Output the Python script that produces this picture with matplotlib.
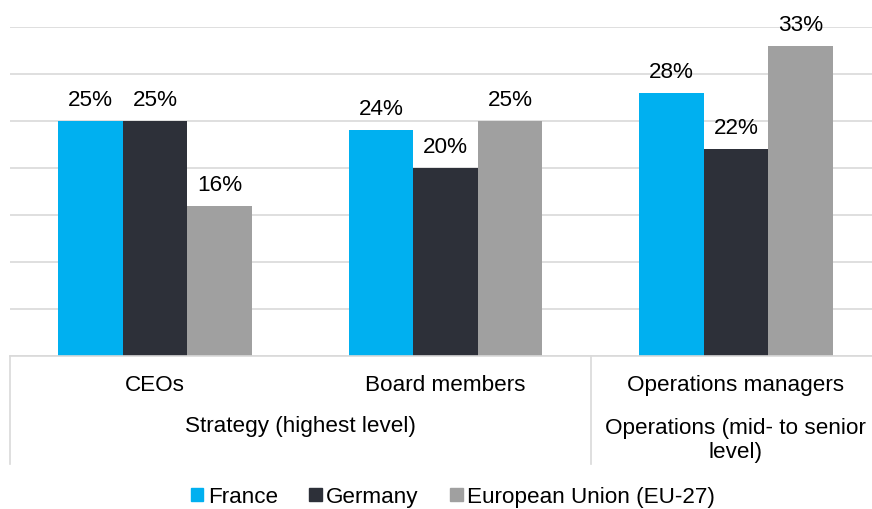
import numpy as np
import matplotlib.pyplot as plt
from matplotlib.patches import Patch

plt.rcParams['font.family'] = ['Liberation Sans', 'DejaVu Sans']

# данные
roles = ['CEOs', 'Board members', 'Operations managers']
france = [25, 24, 28]
germany = [25, 20, 22]
eu27 = [16, 25, 33]
series_names = ['France', 'Germany', 'European Union (EU-27)']
colors = ['#00B0F0', '#2D3039', '#A0A0A0']

fig = plt.figure(figsize=(8.72, 5.10), dpi=100)
ax = fig.add_axes([10 / 872, 0.30, 871 / 872, 0.645])

x = np.arange(len(roles))
w = 0.2227
for k, (vals, name, c) in enumerate(zip([france, germany, eu27], series_names, colors)):
    bars = ax.bar(x + (k - 1) * w, vals, width=w, color=c, label=name, zorder=3)
    for b, v in zip(bars, vals):
        ax.annotate(f'{v}%', (b.get_x() + b.get_width() / 2, v),
                    xytext=(0, 11.5), textcoords='offset points',
                    ha='center', va='baseline', fontsize=16.2, color='#000000')

ax.set_xlim(-0.5, 2.5)
ax.set_ylim(0, 35)
ax.set_yticks(range(0, 36, 5))
ax.yaxis.grid(True, color='#D9D9D9', linewidth=1.2, zorder=0)
ax.tick_params(left=False, labelleft=False, bottom=False, labelbottom=False)
for s in ['top', 'right', 'left']:
    ax.spines[s].set_visible(False)
ax.spines['bottom'].set_color('#D9D9D9')
ax.spines['bottom'].set_linewidth(1.2)
ax.spines['bottom'].set_zorder(4)

# двухуровневая подпись оси X
tr = ax.get_xaxis_transform()
for xv in [-0.5, 1.5]:
    ax.plot([xv, xv], [0, -0.328], transform=tr, color='#D9D9D9',
            linewidth=1.2, clip_on=False)
for i, r in enumerate(roles):
    ax.text(i, -0.1033, r, transform=tr, ha='center', va='baseline', fontsize=16.2)
ax.text(0.5, -0.228, 'Strategy (highest level)', transform=tr,
        ha='center', va='baseline', fontsize=16.2)
ax.text(2, -0.307, 'Operations (mid- to senior\nlevel)', transform=tr,
        ha='center', va='baseline', fontsize=16.2, linespacing=1.2)

handles = [Patch(color=c, label=n) for c, n in zip(colors, series_names)]
fig.legend(handles=handles, loc='center', bbox_to_anchor=(453 / 872, 1 - 498 / 510),
           ncol=3, frameon=False, fontsize=16.2, handlelength=0.55, handleheight=0.55,
           handletextpad=0.2, columnspacing=1.4, borderpad=0)

fig.savefig('out.png', dpi=100)
